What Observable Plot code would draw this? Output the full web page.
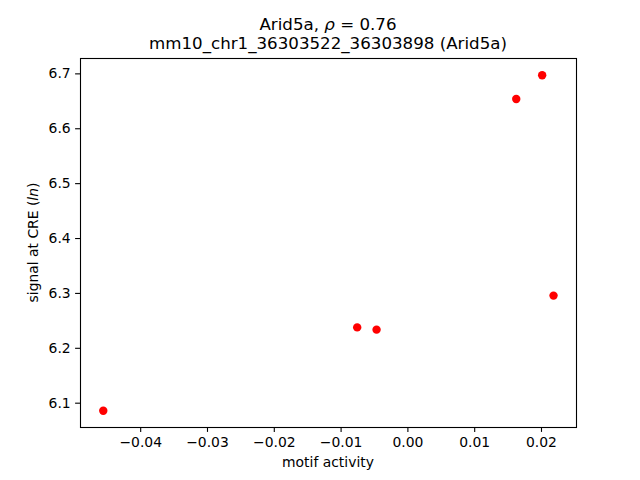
<!DOCTYPE html>
<html>
<head>
<meta charset="utf-8">
<script src="https://cdn.jsdelivr.net/npm/d3@7"></script>
<script src="https://cdn.jsdelivr.net/npm/@observablehq/plot@0.6"></script>
<style>
html, body { margin: 0; padding: 0; background: #fff; }
svg { display: block; }
</style>
</head>
<body>
<div id="chart"></div>
<script>
const motifActivity = [-0.0456, -0.00759, -0.00469, 0.01622, 0.0201, 0.0218];
const signal = [6.0861, 6.2381, 6.2340, 6.6542, 6.6975, 6.2960];
const xTicks = [-0.04, -0.03, -0.02, -0.01, 0.00, 0.01, 0.02];
const yTicks = [6.1, 6.2, 6.3, 6.4, 6.5, 6.6, 6.7];
const titleMain = "Arid5a, ";
const titleRho = "ρ";
const titleRhoValue = " = 0.76";
const titleSub = "mm10_chr1_36303522_36303898 (Arid5a)";
const xLabel = "motif activity";
const yLabelMain = "signal at CRE (";
const yLabelItalic = "ln";
const yLabelEnd = ")";

const data = motifActivity.map((x, i) => ({x, y: signal[i]}));

const font = "DejaVu Sans, sans-serif";
const chart = Plot.plot({
  width: 640,
  height: 480,
  marginLeft: 80,
  marginRight: 64,
  marginTop: 58,
  marginBottom: 53,
  style: {fontFamily: font, fontSize: "13.9px", color: "#000", background: "#fff"},
  x: {domain: [-0.04901, 0.02524], ticks: xTicks, tickFormat: d => d3.format(".2f")(d).replace("-", "\u2212"), tickSize: 4.9, tickPadding: 4.9, label: null},
  y: {domain: [6.0557, 6.728], ticks: yTicks, tickFormat: d => d3.format(".1f")(d), tickSize: 4.9, tickPadding: 4.9, label: null},
  marks: [
    Plot.frame({stroke: "#000", strokeWidth: 1.1}),
    Plot.axisX({ticks: xTicks, tickFormat: d => d3.format(".2f")(d).replace("-", "\u2212"), tickSize: 4.9, tickPadding: 4.9, label: null, fontSize: 13.9, strokeWidth: 1.1}),
    Plot.axisY({ticks: yTicks, tickFormat: d => d3.format(".1f")(d), tickSize: 4.9, tickPadding: 4.9, label: null, fontSize: 13.9, strokeWidth: 1.1}),
    Plot.dot(data, {x: "x", y: "y", r: 4.2, fill: "red", stroke: "none"})
  ]
});

const svg = d3.select(chart);
// Title
const t1 = svg.append("text").attr("x", 328).attr("y", 30).attr("text-anchor", "middle")
  .style("font-family", font).style("font-size", "16.67px").attr("fill", "#000");
t1.append("tspan").text(titleMain);
t1.append("tspan").style("font-style", "italic").text(titleRho);
t1.append("tspan").text(titleRhoValue);
svg.append("text").attr("x", 328).attr("y", 49).attr("text-anchor", "middle")
  .style("font-family", font).style("font-size", "16.67px").attr("fill", "#000").text(titleSub);
// X label
svg.append("text").attr("x", 328).attr("y", 467).attr("text-anchor", "middle")
  .style("font-family", font).style("font-size", "13.9px").attr("fill", "#000").text(xLabel);
// Y label
const yl = svg.append("text").attr("transform", "translate(38,242.5) rotate(-90)").attr("text-anchor", "middle")
  .style("font-family", font).style("font-size", "13.9px").attr("fill", "#000");
yl.append("tspan").text(yLabelMain);
yl.append("tspan").style("font-style", "italic").text(yLabelItalic);
yl.append("tspan").text(yLabelEnd);

document.getElementById("chart").appendChild(chart);
</script>
</body>
</html>
